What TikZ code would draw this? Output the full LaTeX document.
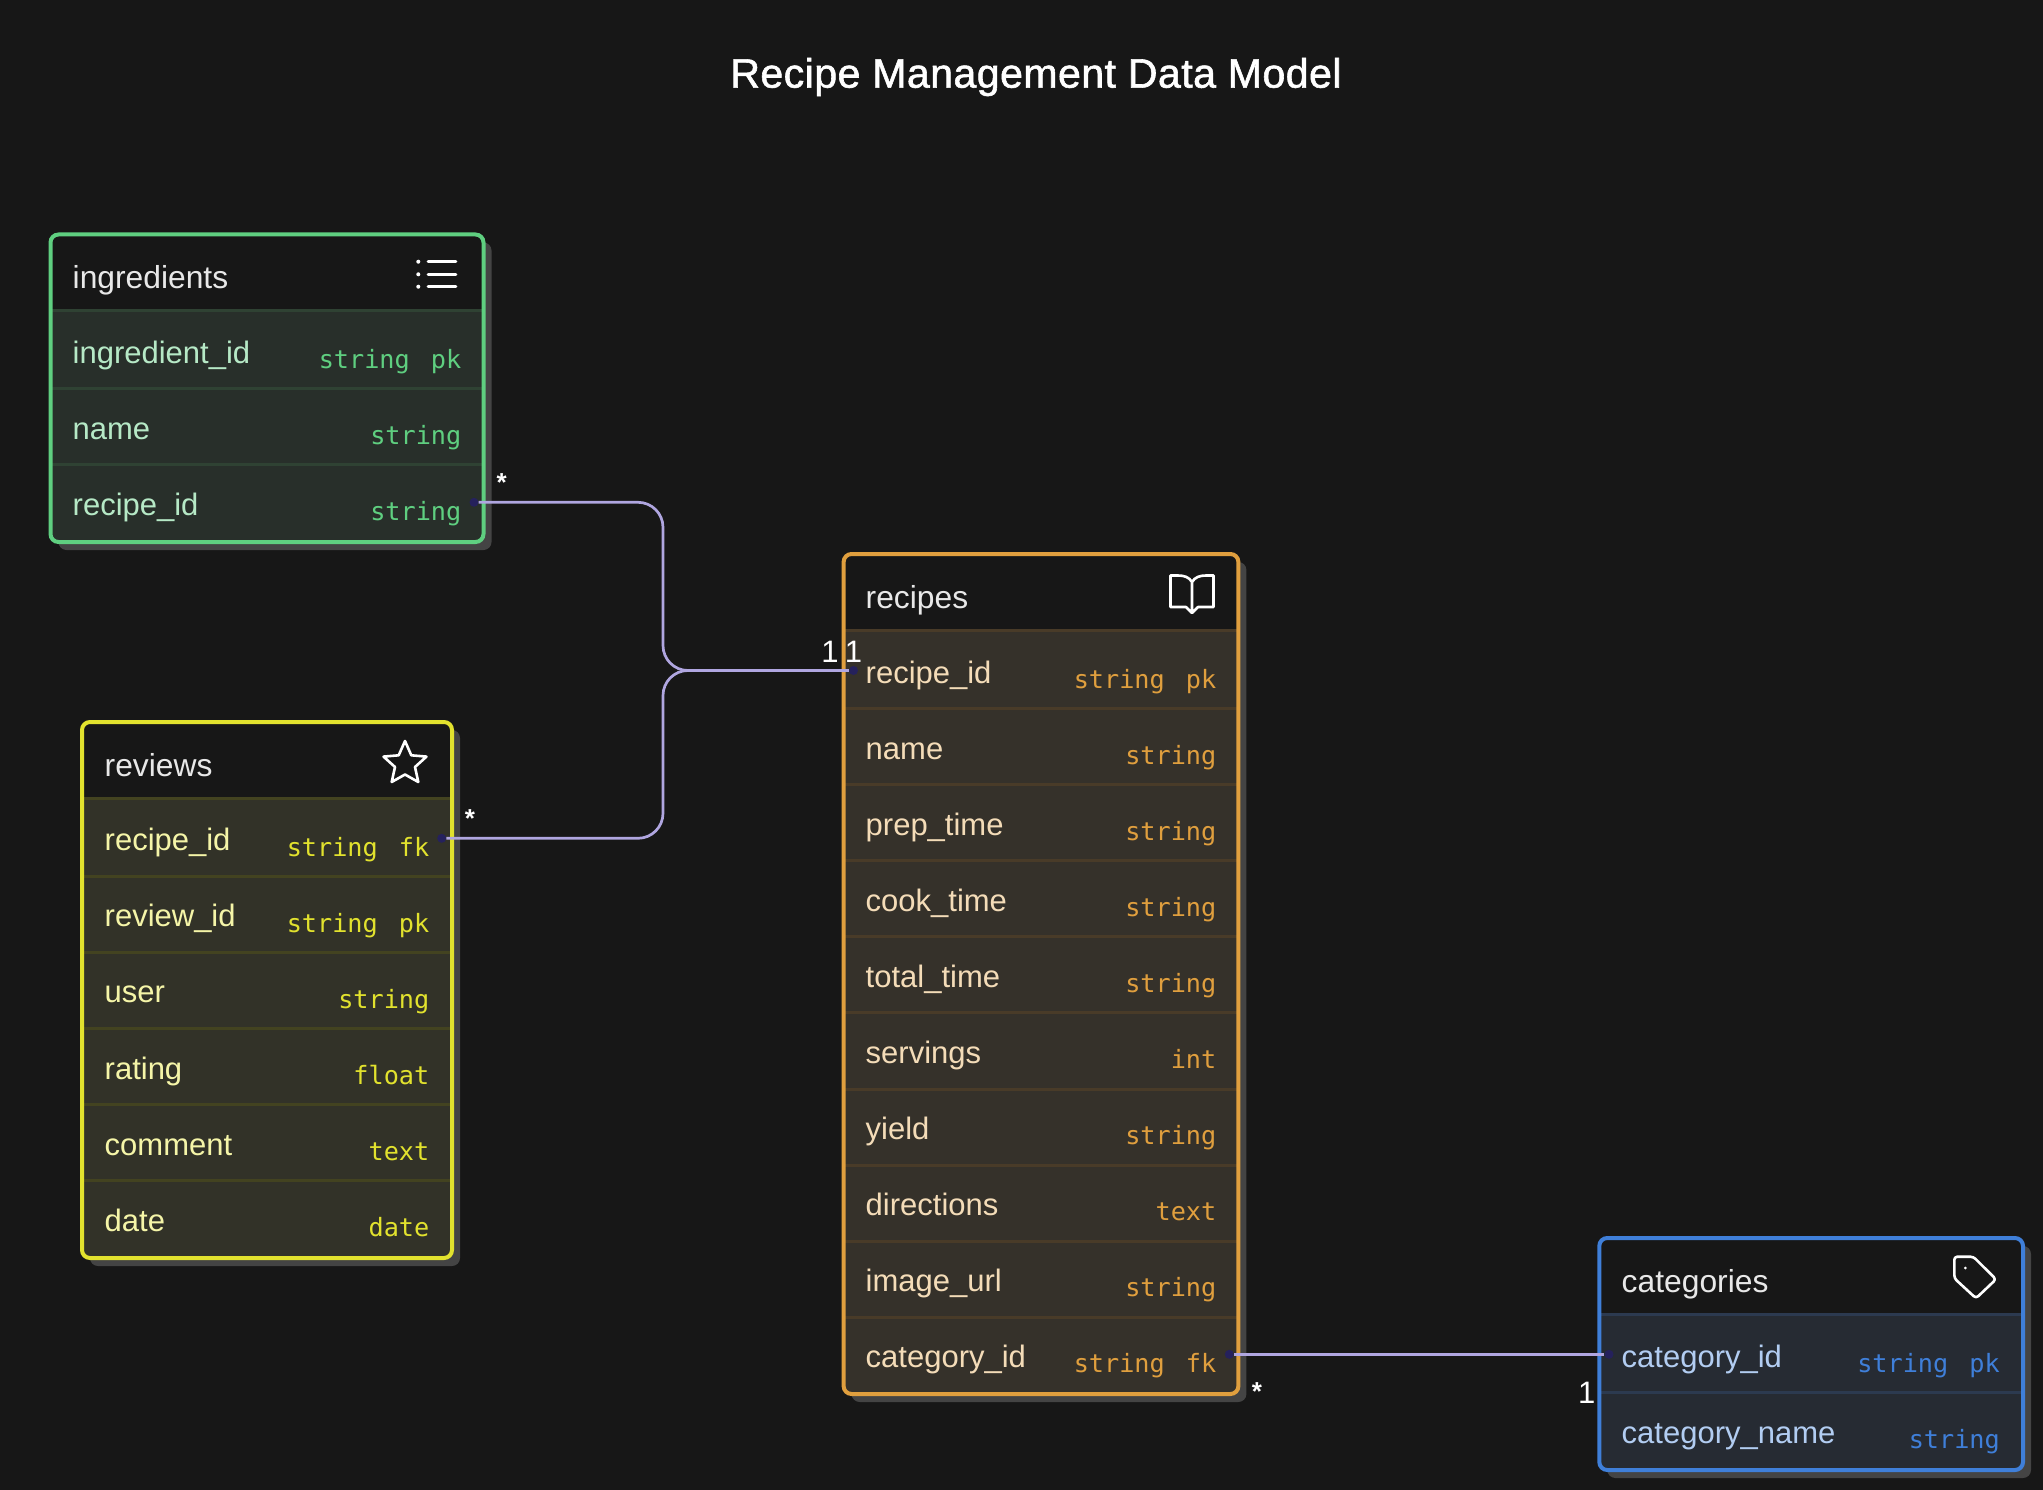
\documentclass[tikz,border=0pt]{standalone}
\usepackage{fontspec}
\setmainfont{Liberation Sans}
\setmonofont{DejaVu Sans Mono}
\newfontfamily\titlefont[FakeBold=1.4,LetterSpace=1.2]{Liberation Sans}
\definecolor{canvas}{HTML}{171717}
\definecolor{shade}{HTML}{444444}
\definecolor{relcolor}{HTML}{B0A6E0}
\definecolor{portcolor}{HTML}{25215C}
\definecolor{headtext}{HTML}{E8E8E8}
\definecolor{ingmain}{HTML}{5FCF80}
\definecolor{ingrow}{HTML}{282F2A}
\definecolor{ingsep}{HTML}{2F4233}
\definecolor{ingname}{HTML}{B6E9C6}
\definecolor{revmain}{HTML}{E2E22E}
\definecolor{revrow}{HTML}{323228}
\definecolor{revsep}{HTML}{434320}
\definecolor{revname}{HTML}{F5F5A8}
\definecolor{recmain}{HTML}{E09F3E}
\definecolor{recrow}{HTML}{35312A}
\definecolor{recsep}{HTML}{493B28}
\definecolor{recname}{HTML}{F4DCB8}
\definecolor{catmain}{HTML}{3F7FD9}
\definecolor{catrow}{HTML}{262B33}
\definecolor{catsep}{HTML}{2C3A50}
\definecolor{catname}{HTML}{B2CDF2}
\tikzset{
  headlabel/.style={anchor=base west, inner sep=0pt, text=headtext, font=\fontsize{31.8}{34}\selectfont},
  fieldlabel/.style={anchor=base west, inner sep=0pt, font=\fontsize{31}{34}\selectfont},
  typelabel/.style={anchor=base east, inner sep=0pt, font=\ttfamily\fontsize{25.2}{28}\selectfont},
  cardlabel/.style={inner sep=0pt, text=white, font=\fontsize{31}{34}\selectfont},
  manylabel/.style={inner sep=0pt, text=white, font=\bfseries\fontsize{26}{28}\selectfont},
  portdot/.style={circle, fill=portcolor, inner sep=0pt, minimum size=9pt},
  relline/.style={draw=relcolor, line width=2.7pt},
  framebox/.style={line width=4pt, rounded corners=8pt},
  shadebox/.style={fill=shade, rounded corners=8pt},
  iconline/.style={draw=white, line width=2.6pt},
}
\newcommand{\kgap}{\hspace{6pt}}
\begin{document}
\begin{tikzpicture}[x=1pt, y=-1pt]
  \fill[canvas] (0,0) rectangle (2043,1490);
  \useasboundingbox (0,0) rectangle (2043,1490);
  \node(title)[inner sep=0pt, text=white, font=\titlefont\fontsize{41}{44}\selectfont] at (1036,77) {Recipe Management Data Model};

  % ingredients
  \fill[shadebox] (58.5,242.5) rectangle (491.5,550);
  \fill[canvas, rounded corners=8pt] (50.5,234.5) rectangle (483.5,542);
  \fill[ingrow] (50.5,310) -- (483.5,310) [rounded corners=8pt] -- (483.5,542) -- (50.5,542) [sharp corners] -- cycle;
  \foreach \k in {0,1,2}{%
    \draw[ingsep, line width=3pt] (50.5,{310+76.2*\k+1.8*(\k>0)}) -- (483.5,{310+76.2*\k+1.8*(\k>0)});
  }
  \draw[ingmain, framebox] (50.5,234.5) rectangle (483.5,542);
  \node(ingHead)[headlabel] at (72.5,288.8) {ingredients};
  \foreach \n/\t [count=\k] in {ingredient\_id/string\kgap{} pk,name/string,recipe\_id/string}{%
    \node(ingN\k)[fieldlabel, text=ingname] at (72.5,{363.4+76.1*(\k-1)}) {\n};
    \node(ingT\k)[typelabel, text=ingmain] at (461.5,{368.7+76.1*(\k-1)}) {\t};
  }
  % list icon
  \foreach \y in {261.7,274.3,286.7}{%
    \fill[white] (418.3,\y) circle (2pt);
    \draw[iconline, line cap=round] (428,\y) -- (456,\y);
  }

  % reviews
  \fill[shadebox] (90,730) rectangle (460,1266);
  \fill[canvas, rounded corners=8pt] (82,722) rectangle (452,1258);
  \fill[revrow] (82,798) -- (452,798) [rounded corners=8pt] -- (452,1258) -- (82,1258) [sharp corners] -- cycle;
  \foreach \k in {0,...,5}{%
    \draw[revsep, line width=3pt] (82,{798+76.2*\k+1.8*(\k>0)}) -- (452,{798+76.2*\k+1.8*(\k>0)});
  }
  \draw[revmain, framebox] (82,722) rectangle (452,1258);
  \node(revHead)[headlabel] at (104.5,776.5) {reviews};
  \foreach \n/\t [count=\k] in {recipe\_id/string\kgap{} fk,review\_id/string\kgap{} pk,user/string,rating/float,comment/text,date/date}{%
    \node(revN\k)[fieldlabel, text=revname] at (104.5,{850.7+76.1*(\k-1)}) {\n};
    \node(revT\k)[typelabel, text=revmain] at (429.5,{856.2+76.1*(\k-1)}) {\t};
  }
  % star icon
  \draw[iconline, line join=round] (405,741)
    -- (411.3,755.3) -- (426.5,756.6) -- (415,767) -- (418.3,782) -- (405,774.5)
    -- (391.7,782) -- (395,767) -- (383.5,756.6) -- (398.7,755.3) -- cycle;

  % recipes
  \fill[shadebox] (851.6,562) rectangle (1246.4,1402);
  \fill[canvas, rounded corners=8pt] (843.6,554) rectangle (1238.4,1394);
  \fill[recrow] (843.6,630) -- (1238.4,630) [rounded corners=8pt] -- (1238.4,1394) -- (843.6,1394) [sharp corners] -- cycle;
  \foreach \k in {0,...,9}{%
    \draw[recsep, line width=3pt] (843.6,{630+76.2*\k+1.8*(\k>0)}) -- (1238.4,{630+76.2*\k+1.8*(\k>0)});
  }
  \draw[recmain, framebox] (843.6,554) rectangle (1238.4,1394);
  \node(recHead)[headlabel] at (865.5,608.8) {recipes};
  \foreach \n/\t [count=\k] in {recipe\_id/string\kgap{} pk,name/string,prep\_time/string,cook\_time/string,total\_time/string,servings/int,yield/string,directions/text,image\_url/string,category\_id/string\kgap{} fk}{%
    \node(recN\k)[fieldlabel, text=recname] at (865.5,{683+76.05*(\k-1)}) {\n};
    \node(recT\k)[typelabel, text=recmain] at (1216.5,{688.5+76.05*(\k-1)}) {\t};
  }
  % book icon
  \draw[iconline, line join=round] (1192,582) .. controls (1189,577) and (1184,575.5) .. (1178,575.5) -- (1170.5,575.5)
    -- (1170.5,607) -- (1186,607) -- (1192,613) -- (1198,607) -- (1213.5,607) -- (1213.5,575.5) -- (1206,575.5)
    .. controls (1200,575.5) and (1195,577) .. (1192,582) -- (1192,611);

  % categories
  \fill[shadebox] (1607.3,1246) rectangle (2031,1478);
  \fill[canvas, rounded corners=8pt] (1599.3,1238) rectangle (2023,1470);
  \fill[catrow] (1599.3,1314) -- (2023,1314) [rounded corners=8pt] -- (2023,1470) -- (1599.3,1470) [sharp corners] -- cycle;
  \foreach \k in {0,1}{%
    \draw[catsep, line width=3pt] (1599.3,{1314+76.2*\k+1.8*(\k>0)}) -- (2023,{1314+76.2*\k+1.8*(\k>0)});
  }
  \draw[catmain, framebox] (1599.3,1238) rectangle (2023,1470);
  \node(catHead)[headlabel] at (1621.5,1292.5) {categories};
  \foreach \n/\t [count=\k] in {category\_id/string\kgap{} pk,category\_name/string}{%
    \node(catN\k)[fieldlabel, text=catname] at (1621.5,{1367.4+76.1*(\k-1)}) {\n};
    \node(catT\k)[typelabel, text=catmain] at (2000,{1372.7+76.1*(\k-1)}) {\t};
  }
  % tag icon
  \draw[iconline, line join=round, rounded corners=3pt] (1954.3,1256.7) -- (1973.3,1256.7) -- (1996,1279.3) -- (1976,1298.3) -- (1954.3,1278.3) -- cycle;
  \fill[white] (1965.3,1268) circle (1.5pt);

  % relations
  \node(ingPort)[portdot] at (474,502.3) {};
  \node(revPort)[portdot] at (441.7,838.3) {};
  \node(recPort)[portdot] at (853.5,670.5) {};
  \node(fkPort)[portdot] at (1229.3,1354.3) {};
  \node(catPort)[portdot] at (1609,1354.3) {};
  \coordinate(joinAt) at (663,670.5);
  \draw[relline, rounded corners=25pt] (ingPort) -| (joinAt) -- (recPort);
  \draw[relline, rounded corners=25pt] (revPort) -| (joinAt) -- (recPort);
  \draw[relline] (fkPort) -- (catPort);
  \node(ingMany)[manylabel] at (501.7,483) {*};
  \node(revMany)[manylabel] at (470,819) {*};
  \node(fkMany)[manylabel] at (1257,1392) {*};
  \node(recOneA)[cardlabel] at (830,652) {1};
  \node(recOneB)[cardlabel] at (853.5,652) {1};
  \node(catOne)[cardlabel] at (1586.7,1393) {1};
\end{tikzpicture}
\end{document}
